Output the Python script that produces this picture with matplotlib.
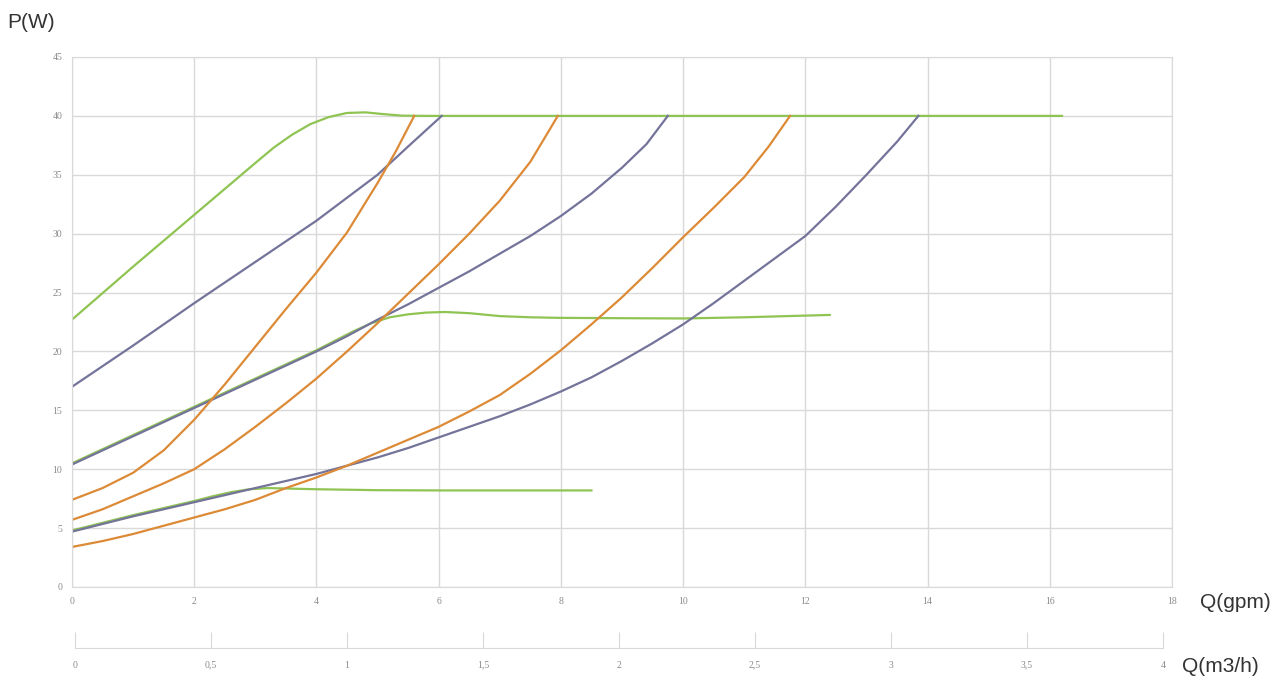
import matplotlib.pyplot as plt

# ================================
# Data (Q in gpm, P in W)
# ================================
green_hi_q = [0, 1, 2, 3, 3.3, 3.6, 3.9, 4.2, 4.5, 4.8, 5.1, 5.4, 5.8, 16.2]
green_hi_p = [22.7, 27.2, 31.6, 36.0, 37.3, 38.4, 39.3, 39.9, 40.25, 40.3, 40.15, 40.02, 40.0, 40.0]

green_mid_q = [0, 1, 2, 3, 4, 4.3, 4.6, 4.9, 5.2, 5.5, 5.8, 6.1, 6.5, 7, 7.5, 8, 10, 11, 12.4]
green_mid_p = [10.5, 12.9, 15.3, 17.7, 20.1, 20.9, 21.7, 22.4, 22.9, 23.15, 23.3, 23.35, 23.25,
               23.0, 22.9, 22.85, 22.8, 22.9, 23.1]

green_lo_q = [0, 1, 2, 2.3, 2.6, 2.9, 3.2, 3.6, 4, 5, 6, 8.5]
green_lo_p = [4.8, 6.1, 7.3, 7.7, 8.05, 8.3, 8.4, 8.35, 8.3, 8.22, 8.2, 8.2]

purple_hi_q = [0, 1, 2, 3, 4, 5, 5.5, 6.05]
purple_hi_p = [17.0, 20.5, 24.1, 27.6, 31.1, 35.0, 37.4, 40.0]

purple_mid_q = [0, 0.5, 1, 1.5, 2, 2.5, 3, 3.5, 4, 4.5, 5, 5.5, 6, 6.5, 7, 7.5, 8, 8.5, 9, 9.4, 9.75]
purple_mid_p = [10.4, 11.6, 12.8, 14.0, 15.2, 16.4, 17.6, 18.8, 20.0, 21.3, 22.7, 24.0, 25.4, 26.8,
                28.3, 29.8, 31.5, 33.4, 35.6, 37.6, 40.0]

purple_lo_q = [0, 0.5, 1, 1.5, 2, 2.5, 3, 3.5, 4, 4.5, 5, 5.5, 6, 6.5, 7, 7.5, 8, 8.5, 9, 9.5,
               10, 10.5, 11, 11.5, 12, 12.5, 13, 13.5, 13.85]
purple_lo_p = [4.7, 5.35, 6.0, 6.6, 7.2, 7.8, 8.4, 9.0, 9.6, 10.3, 11.0, 11.8, 12.7, 13.6, 14.5,
               15.5, 16.6, 17.8, 19.2, 20.7, 22.3, 24.1, 26.0, 27.9, 29.8, 32.3, 35.0, 37.8, 40.0]

orange_hi_q = [0, 0.5, 1, 1.5, 2, 2.5, 3, 3.5, 4, 4.5, 5, 5.3, 5.6]
orange_hi_p = [7.4, 8.4, 9.7, 11.6, 14.2, 17.2, 20.4, 23.6, 26.7, 30.1, 34.3, 37.0, 40.0]

orange_mid_q = [0, 0.5, 1, 1.5, 2, 2.5, 3, 3.5, 4, 4.5, 5, 5.5, 6, 6.5, 7, 7.5, 7.95]
orange_mid_p = [5.7, 6.6, 7.7, 8.8, 10.0, 11.7, 13.6, 15.6, 17.7, 20.0, 22.4, 24.9, 27.4, 30.0,
                32.8, 36.1, 40.0]

orange_lo_q = [0, 0.5, 1, 1.5, 2, 2.5, 3, 3.5, 4, 4.5, 5, 5.5, 6, 6.5, 7, 7.5, 8, 8.5, 9, 9.5,
               10, 10.5, 11, 11.4, 11.75]
orange_lo_p = [3.4, 3.9, 4.5, 5.2, 5.9, 6.6, 7.4, 8.4, 9.3, 10.3, 11.4, 12.5, 13.6, 14.9, 16.3,
               18.1, 20.1, 22.3, 24.6, 27.1, 29.7, 32.2, 34.8, 37.4, 40.0]

gpm_ticks = list(range(0, 19, 2))
watt_ticks = list(range(0, 46, 5))
m3h_ticks = [0, 0.5, 1, 1.5, 2, 2.5, 3, 3.5, 4]
m3h_labels = ["0", "0,5", "1", "1,5", "2", "2,5", "3", "3,5", "4"]

GREEN = "#8fc453"
PURPLE = "#74739a"
ORANGE = "#dc8a36"
GRID = "#d9d9d9"
TICK = "#8a8a8a"

W, H = 1273, 681
fig = plt.figure(figsize=(W / 100, H / 100), dpi=100)

# ================================
# Main chart
# ================================
ax = fig.add_axes([72 / W, (H - 587) / H, 1100 / W, 530 / H])

for q, p in [(green_hi_q, green_hi_p), (green_mid_q, green_mid_p), (green_lo_q, green_lo_p)]:
    ax.plot(q, p, color=GREEN, lw=1.6, solid_joinstyle="round")
for q, p in [(purple_hi_q, purple_hi_p), (purple_mid_q, purple_mid_p), (purple_lo_q, purple_lo_p)]:
    ax.plot(q, p, color=PURPLE, lw=1.6, solid_joinstyle="round")
for q, p in [(orange_hi_q, orange_hi_p), (orange_mid_q, orange_mid_p), (orange_lo_q, orange_lo_p)]:
    ax.plot(q, p, color=ORANGE, lw=1.6, solid_joinstyle="round")

ax.set_xlim(0, 18)
ax.set_ylim(0, 45)
ax.set_xticks(gpm_ticks)
ax.set_yticks(watt_ticks)
ax.grid(True, color=GRID, lw=1)
ax.set_axisbelow(True)
for s in ax.spines.values():
    s.set_color(GRID)
ax.tick_params(length=0, labelsize=7, labelcolor=TICK, pad=7)
for lab in ax.get_xticklabels() + ax.get_yticklabels():
    lab.set_family("Liberation Serif")

fig.text(7 / W, 1 - 23 / H, "P(W)", fontsize=15, color="#333333",
         family="Liberation Sans", va="center", ha="left")
fig.text(1200 / W, 1 - 602 / H, "Q(gpm)", fontsize=15, color="#333333",
         family="Liberation Sans", va="center", ha="left")
fig.text(1182 / W, 1 - 666 / H, "Q(m3/h)", fontsize=15, color="#333333",
         family="Liberation Sans", va="center", ha="left")

# ================================
# Second flow axis (m3/h)
# ================================
ax2 = fig.add_axes([75 / W, (H - 648) / H, 1088 / W, 0.001])
ax2.set_xlim(0, 4)
ax2.set_facecolor("none")
ax2.set_yticks([])
for side in ["top", "left", "right"]:
    ax2.spines[side].set_visible(False)
ax2.spines["bottom"].set_color(GRID)
ax2.set_xticks(m3h_ticks)
ax2.set_xticklabels(m3h_labels, family="Liberation Serif")
ax2.tick_params(axis="x", direction="in", length=11.5, color=GRID,
                labelsize=7, labelcolor=TICK, pad=9)

fig.savefig("out.png", dpi=100)
